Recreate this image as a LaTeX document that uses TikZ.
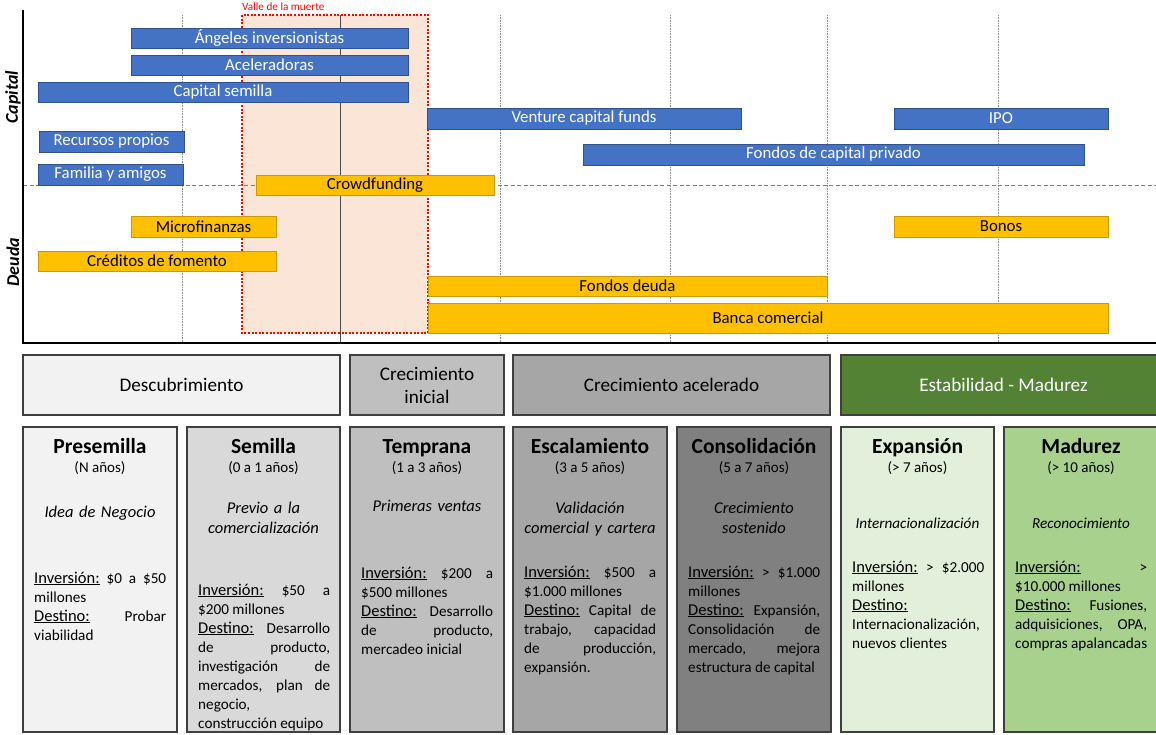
\documentclass[tikz,border=0pt]{standalone}
\usepackage{fontspec}
\setmainfont{Carlito}
\definecolor{capblue}{HTML}{4472C4}
\definecolor{capborder}{HTML}{2F528F}
\definecolor{debtyellow}{HTML}{FFC000}
\definecolor{debtborder}{HTML}{C99A06}
\definecolor{valley}{HTML}{FBE5D6}
\definecolor{boxborder}{HTML}{3F3F3F}
\definecolor{gA}{HTML}{F2F2F2}
\definecolor{gB}{HTML}{D9D9D9}
\definecolor{gC}{HTML}{BFBFBF}
\definecolor{gD}{HTML}{A6A6A6}
\definecolor{gE}{HTML}{808080}
\definecolor{grD}{HTML}{548235}
\definecolor{grL}{HTML}{E2EFDA}
\definecolor{grM}{HTML}{A9D18E}
\newcommand\mkbox[7]{\node[#1, minimum width={(#5)-(#3)}, minimum height={(#6)-(#4)}] (#2) at ({((#3)+(#5))/2},{((#4)+(#6))/2}) {#7};}
\newcommand\uln[1]{{\fontsize{16.5}{19}\selectfont\underline{#1}}}
\begin{document}
\begin{tikzpicture}[x=1pt,y=-1pt,
  capbar/.style={draw=capborder, line width=0.9pt, fill=capblue, text=white, font=\fontsize{16.8}{18}\selectfont, inner sep=0pt},
  debtbar/.style={draw=debtborder, line width=0.9pt, fill=debtyellow, text=black, font=\fontsize{16.8}{18}\selectfont, inner sep=0pt},
  gridln/.style={draw=black!45, line width=0.6pt, dash pattern=on 0.8pt off 0.8pt},
  phasebox/.style={draw=boxborder, line width=1.2pt, inner sep=0pt, font=\fontsize{19.2}{23}\selectfont, align=center},
  stagebox/.style={draw=boxborder, line width=1.2pt, inner sep=0pt},
  stitle/.style={font=\bfseries\fontsize{21.5}{25}\selectfont, anchor=base, inner sep=0pt},
  ssub/.style={font=\fontsize{15}{18}\selectfont, anchor=base, inner sep=0pt},
  sdesc/.style={font=\itshape\fontsize{16.5}{20}\selectfont, anchor=base, inner sep=0pt, text width=150pt, align=center},
  sbody/.style={font=\fontsize{15.2}{19}\selectfont, anchor=base west, inner sep=0pt, text width=132pt, align=justify},
  axlabel/.style={font=\bfseries\itshape\fontsize{18}{20}\selectfont, rotate=90, inner sep=0pt}
]
\useasboundingbox (0,0) rectangle (1156,734);
% valley of death
\draw[fill=valley, draw=red, line width=2.4pt, dash pattern=on 2pt off 1.6pt] (242,15) rectangle (428,333);
\node[anchor=west, inner sep=0pt, text=red, font=\fontsize{11.2}{12}\selectfont] (valle) at (242,7) {Valle de la muerte};
% grid
\foreach \gx in {182,500,670,827,998}{\draw[gridln] (\gx,15) -- (\gx,343);}
\draw[draw=black!70, line width=0.6pt] (340,15) -- (340,343);
\draw[draw=black!50, line width=0.8pt, dash pattern=on 4pt off 2.5pt] (23,185) -- (1156,185);
% capital bars
\mkbox{capbar}{angeles}{131}{28}{408}{48}{Ángeles inversionistas}
\mkbox{capbar}{acel}{131}{55}{408}{75}{Aceleradoras}
\mkbox{capbar}{semcap}{38}{82}{408}{102}{Capital semilla}
\mkbox{capbar}{venture}{427}{108}{741}{129}{Venture capital funds}
\mkbox{capbar}{ipo}{894}{108}{1108}{129}{IPO}
\mkbox{capbar}{recursos}{39}{131}{184}{152}{Recursos propios}
\mkbox{capbar}{privado}{583}{144}{1084}{165}{Fondos de capital privado}
\mkbox{capbar}{familia}{38}{164}{183}{185}{Familia y amigos}
% debt bars
\mkbox{debtbar}{crowd}{256}{175}{494}{195}{Crowdfunding}
\mkbox{debtbar}{micro}{131}{216}{276}{237}{Microfinanzas}
\mkbox{debtbar}{bonos}{894}{216}{1108}{237}{Bonos}
\mkbox{debtbar}{creditos}{38}{251}{276}{271}{Créditos de fomento}
\mkbox{debtbar}{fdeuda}{428}{276}{827}{296}{Fondos deuda}
\mkbox{debtbar}{banca}{428}{303}{1108}{333}{Banca comercial}
% axes
\draw[line width=1.6pt] (23,10) -- (23,343) -- (1156,343);
\node[axlabel] (capital) at (13,97) {Capital};
\node[axlabel] (deuda) at (13,262) {Deuda};
% phase headers
\mkbox{phasebox, fill=gA}{descub}{23}{355}{340}{415}{Descubrimiento}
\mkbox{phasebox, fill=gC}{crecini}{350}{355}{504}{415}{Crecimiento\\inicial}
\mkbox{phasebox, fill=gD}{crecacel}{513}{355}{830}{415}{Crecimiento acelerado}
\mkbox{phasebox, fill=grD, text=white}{estab}{841}{355}{1166}{415}{Estabilidad - Madurez}
% stage boxes
\mkbox{stagebox, fill=gA}{presem}{23}{427}{177}{732}{}
\mkbox{stagebox, fill=gB}{sem}{187}{427}{340}{732}{}
\mkbox{stagebox, fill=gC}{temp}{350}{427}{504}{732}{}
\mkbox{stagebox, fill=gD}{escal}{513}{427}{667}{732}{}
\mkbox{stagebox, fill=gE}{consol}{677}{427}{831}{732}{}
\mkbox{stagebox, fill=grL}{expan}{841}{427}{994}{732}{}
\mkbox{stagebox, fill=grM}{madur}{1004}{427}{1166}{732}{}
% Presemilla
\node[stitle] (t1) at (100,453) {Presemilla};
\node[ssub] (s1) at (100,472) {(N años)};
\node[sdesc] (d1) at (100,517) {Idea de Negocio};
\node[sbody] (b1) at (34,583) {\uln{Inversión:} \$0 a \$50\linebreak millones\par \uln{Destino:} Probar\linebreak viabilidad};
% Semilla
\node[stitle] (t2) at (263.5,453) {Semilla};
\node[ssub] (s2) at (263.5,472) {(0 a 1 años)};
\node[sdesc] (d2) at (263.5,513) {Previo a la\\comercialización};
\node[sbody] (b2) at (198,595) {\uln{Inversión:} \$50 a\linebreak \$200 millones\par \uln{Destino:} Desarrollo\linebreak de producto,\linebreak investigación de\linebreak mercados, plan de\linebreak negocio,\newline construcción equipo};
% Temprana
\node[stitle] (t3) at (427,453) {Temprana};
\node[ssub] (s3) at (427,472) {(1 a 3 años)};
\node[sdesc] (d3) at (427,511) {Primeras ventas};
\node[sbody] (b3) at (361,578) {\uln{Inversión:} \$200 a\linebreak \$500 millones\par \uln{Destino:} Desarrollo\linebreak de producto,\linebreak mercadeo inicial};
% Escalamiento
\node[stitle] (t4) at (590,453) {Escalamiento};
\node[ssub] (s4) at (590,472) {(3 a 5 años)};
\node[sdesc] (d4) at (590,513) {Validación\\comercial y cartera};
\node[sbody] (b4) at (524,577) {\uln{Inversión:} \$500 a\linebreak \$1.000 millones\par \uln{Destino:} Capital de\linebreak trabajo, capacidad\linebreak de producción,\linebreak expansión.};
% Consolidacion
\node[stitle] (t5) at (754,453) {Consolidación};
\node[ssub] (s5) at (754,472) {(5 a 7 años)};
\node[sdesc] (d5) at (754,513) {Crecimiento\\sostenido};
\node[sbody] (b5) at (688,577) {\uln{Inversión:} > \$1.000\linebreak millones\par \uln{Destino:} Expansión,\linebreak Consolidación de\linebreak mercado, mejora\linebreak estructura de capital};
% Expansion
\node[stitle] (t6) at (917.5,453) {Expansión};
\node[ssub] (s6) at (917.5,472) {(> 7 años)};
\node[sdesc, font=\itshape\fontsize{15.2}{19}\selectfont] (d6) at (917.5,528) {Internacionalización};
\node[sbody] (b6) at (852,572) {\uln{Inversión:} > \$2.000\linebreak millones\par \uln{Destino:}\newline Internacionalización,\newline nuevos clientes};
% Madurez
\node[stitle] (t7) at (1081,453) {Madurez};
\node[ssub] (s7) at (1081,472) {(> 10 años)};
\node[sdesc, font=\itshape\fontsize{15.2}{19}\selectfont] (d7) at (1081,528) {Reconocimiento};
\node[sbody] (b7) at (1015,572) {\uln{Inversión:} >\linebreak \$10.000 millones\par \uln{Destino:} Fusiones,\linebreak adquisiciones, OPA,\linebreak compras apalancadas};
\end{tikzpicture}
\end{document}
